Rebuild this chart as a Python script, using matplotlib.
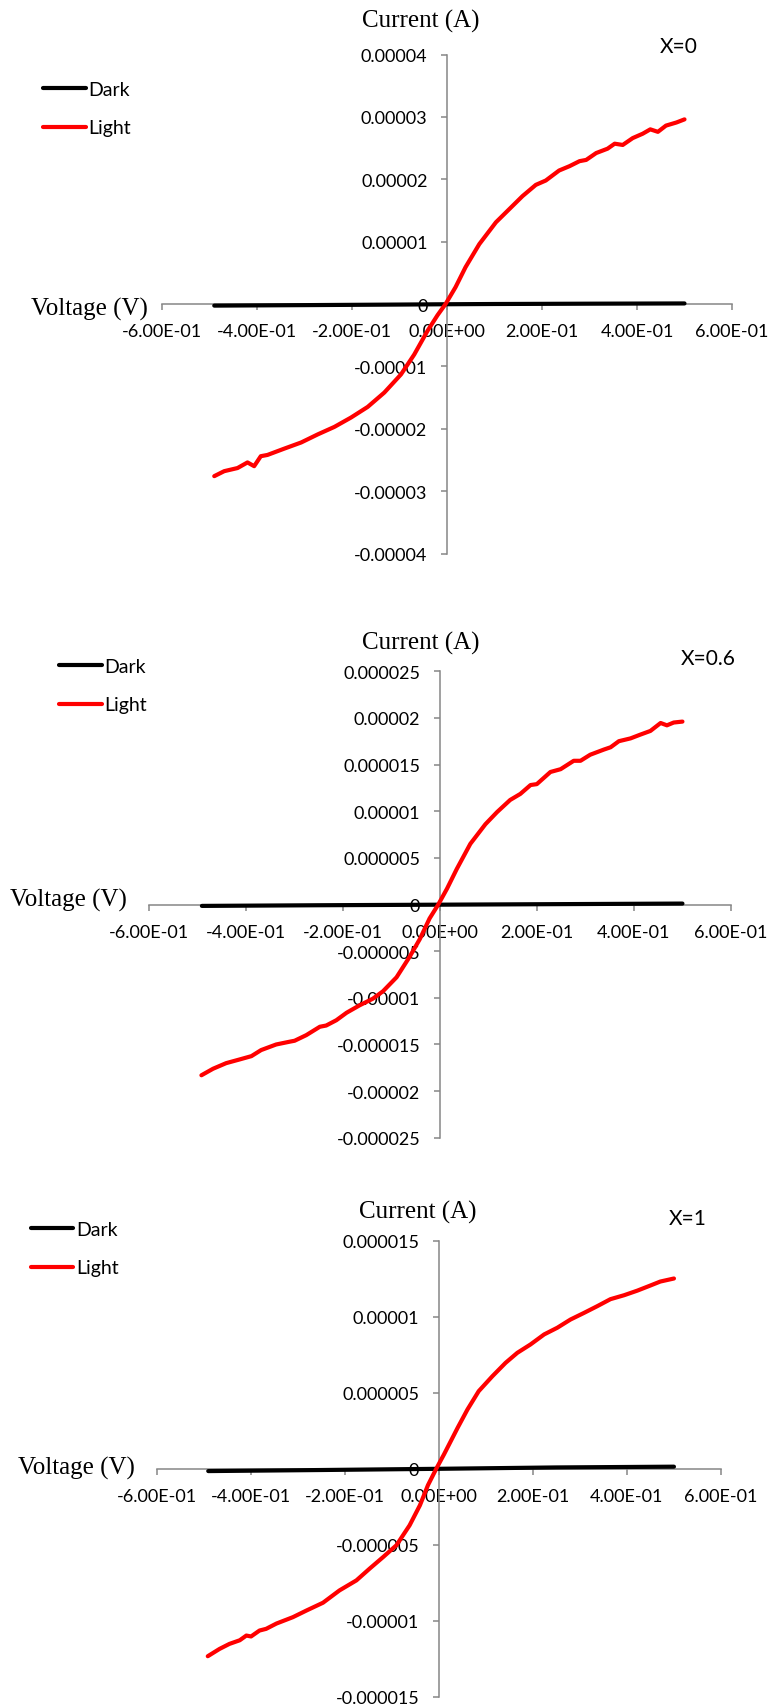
import numpy as np
import matplotlib
matplotlib.use("Agg")
import matplotlib.pyplot as plt
from matplotlib.ticker import FuncFormatter

plt.rcParams['font.family'] = ['Lato', 'DejaVu Sans']

# ---------------- data (voltage in V, current in microamps) ----------------
UA = 1e-6

# X = 0
v_light_0 = [-0.490, -0.469, -0.441, -0.420, -0.406, -0.392, -0.378, -0.343, -0.307,
             -0.272, -0.237, -0.202, -0.167, -0.132, -0.097, -0.069, -0.041, -0.020,
             -0.003, 0.018, 0.039, 0.068, 0.103, 0.131, 0.159, 0.187, 0.208, 0.236,
             0.258, 0.279, 0.293, 0.314, 0.338, 0.353, 0.370, 0.391, 0.412, 0.428,
             0.444, 0.461, 0.483, 0.500]
i_light_0 = [-27.6, -26.8, -26.3, -25.4, -26.0, -24.4, -24.2, -23.2, -22.2,
             -20.9, -19.7, -18.2, -16.5, -14.2, -11.3, -8.1, -4.3, -1.8,
             0.0, 2.7, 5.9, 9.6, 13.1, 15.2, 17.3, 19.1, 19.8, 21.4,
             22.1, 22.9, 23.1, 24.2, 24.9, 25.7, 25.5, 26.6, 27.3, 28.0,
             27.6, 28.6, 29.1, 29.6]
v_dark_0 = [-0.49, -0.30, -0.10, 0.00, 0.10, 0.30, 0.50]
i_dark_0 = [-0.26, -0.18, -0.09, -0.04, 0.00, 0.05, 0.09]

# X = 0.6
v_light_6 = [-0.491, -0.467, -0.440, -0.412, -0.388, -0.368, -0.337, -0.309, -0.299,
             -0.275, -0.247, -0.234, -0.213, -0.192, -0.165, -0.138, -0.117, -0.089,
             -0.062, -0.041, -0.021, -0.003, 0.015, 0.035, 0.063, 0.094, 0.118, 0.145,
             0.166, 0.187, 0.200, 0.228, 0.249, 0.276, 0.290, 0.310, 0.338, 0.352,
             0.369, 0.393, 0.413, 0.434, 0.455, 0.468, 0.482, 0.500]
i_light_6 = [-18.3, -17.6, -17.0, -16.6, -16.25, -15.6, -15.0, -14.7, -14.6,
             -14.0, -13.1, -12.97, -12.4, -11.6, -10.8, -10.1, -9.3, -7.8,
             -5.6, -3.7, -1.5, 0.0, 1.7, 3.8, 6.5, 8.6, 9.9, 11.2,
             11.85, 12.8, 12.9, 14.2, 14.5, 15.4, 15.4, 16.05, 16.6, 16.85,
             17.5, 17.8, 18.2, 18.6, 19.45, 19.2, 19.5, 19.6]
v_dark_6 = [-0.49, -0.25, 0.00, 0.25, 0.50]
i_dark_6 = [-0.15, -0.08, -0.02, 0.04, 0.10]

# X = 1
v_light_1 = [-0.491, -0.466, -0.445, -0.423, -0.409, -0.399, -0.381, -0.367, -0.345,
             -0.310, -0.281, -0.246, -0.211, -0.175, -0.147, -0.118, -0.090, -0.062,
             -0.040, -0.023, -0.005, 0.011, 0.040, 0.061, 0.085, 0.114, 0.142, 0.167,
             0.195, 0.224, 0.252, 0.280, 0.309, 0.337, 0.365, 0.394, 0.422, 0.450,
             0.471, 0.500]
i_light_1 = [-12.35, -11.87, -11.54, -11.30, -10.99, -11.05, -10.66, -10.55, -10.20,
             -9.78, -9.34, -8.83, -8.02, -7.36, -6.59, -5.82, -5.05, -3.74,
             -2.42, -1.10, 0.00, 0.92, 2.67, 3.88, 5.09, 6.07, 6.95, 7.61,
             8.16, 8.82, 9.26, 9.80, 10.24, 10.68, 11.14, 11.40, 11.70, 12.04,
             12.30, 12.50]
v_dark_1 = [-0.49, -0.25, 0.00, 0.25, 0.50]
i_dark_1 = [-0.17, -0.10, -0.02, 0.07, 0.12]

panel_labels = ["X=0", "X=0.6", "X=1"]
y_limits = [4e-5, 2.5e-5, 1.5e-5]
y_steps = [1e-5, 5e-6, 5e-6]
x_ticks = [-0.6, -0.4, -0.2, 0.0, 0.2, 0.4, 0.6]

series = [
    (v_dark_0, i_dark_0, v_light_0, i_light_0),
    (v_dark_6, i_dark_6, v_light_6, i_light_6),
    (v_dark_1, i_dark_1, v_light_1, i_light_1),
]

# ---------------- layout (pixels on a 768 x 1706 canvas) ----------------
W, H = 768, 1706
fig = plt.figure(figsize=(W / 100, H / 100), dpi=100)
fig.patch.set_facecolor("white")


def fx(px):
    return px / W


def fy(py):
    return 1 - py / H


# (left, right, top, bottom) of each plot area in pixels
boxes = [(162, 732, 55.5, 554.5), (148.5, 731, 672.2, 1138.8), (156.5, 721, 1241.5, 1697.5)]
current_pos = [(421, 21), (421, 643), (418, 1212)]
tag_pos = [(679, 47), (708, 659), (688, 1219)]
voltage_pos = [(148, 309), (127, 900), (135, 1468)]
legend_pos = [(43, 82), (59, 659), (30.5, 1222)]

AXIS_GRAY = "#868686"
TICK_SIZE = 13
LEGEND_SIZE = 14


def fmt_y(v, _):
    if abs(v) < 1e-12:
        return "0"
    return f"{v:.6f}".rstrip("0").rstrip(".")


def fmt_x(v, _):
    v = round(v, 10)
    if abs(v) < 1e-12:
        v = 0.0
    return f"{v:.2E}"


for k in range(3):
    left, right, top, bottom = boxes[k]
    ax = fig.add_axes([fx(left), fy(bottom), (right - left) / W, (bottom - top) / H])
    ax.set_facecolor("none")

    vd, idk, vl, il = series[k]
    ax.plot(vd, np.array(idk) * UA, color="black", lw=3.0, solid_capstyle="round",
            solid_joinstyle="round", zorder=3, label="Dark")
    ax.plot(vl, np.array(il) * UA, color="#ff0000", lw=3.0, solid_capstyle="round",
            solid_joinstyle="round", zorder=3, label="Light")

    lim = y_limits[k]
    n = int(round(2 * lim / y_steps[k])) + 1
    ax.set_xlim(-0.6, 0.6)
    ax.set_ylim(-lim, lim)
    ax.set_xticks(x_ticks)
    ax.set_yticks(np.linspace(-lim, lim, n))
    ax.xaxis.set_major_formatter(FuncFormatter(fmt_x))
    ax.yaxis.set_major_formatter(FuncFormatter(fmt_y))

    for side in ("top", "right"):
        ax.spines[side].set_visible(False)
    for side in ("left", "bottom"):
        ax.spines[side].set_position(("data", 0))
        ax.spines[side].set_color(AXIS_GRAY)
        ax.spines[side].set_linewidth(1.1)

    ax.tick_params(axis="both", direction="out", length=4.5, width=1.1,
                   color=AXIS_GRAY, labelsize=TICK_SIZE, labelcolor="black")
    ax.tick_params(axis="x", pad=9.5)
    ax.tick_params(axis="y", pad=9.5)

    # axis titles and panel tag
    fig.text(fx(current_pos[k][0]), fy(current_pos[k][1]), "Current (A)",
             family="Liberation Serif", fontsize=18, ha="center", va="center")
    fig.text(fx(voltage_pos[k][0]), fy(voltage_pos[k][1]), "Voltage (V)",
             family="Liberation Serif", fontsize=18, ha="right", va="center")
    fig.text(fx(tag_pos[k][0]), fy(tag_pos[k][1]), panel_labels[k],
             fontsize=15, ha="center", va="center")

    ax.legend(loc="upper left", bbox_to_anchor=(fx(legend_pos[k][0]), fy(legend_pos[k][1])),
              bbox_transform=fig.transFigure, frameon=False, fontsize=LEGEND_SIZE,
              handlelength=2.2, handletextpad=0.15, labelspacing=1.1,
              borderpad=0, borderaxespad=0)

fig.savefig("out.png", dpi=100, facecolor="white")
